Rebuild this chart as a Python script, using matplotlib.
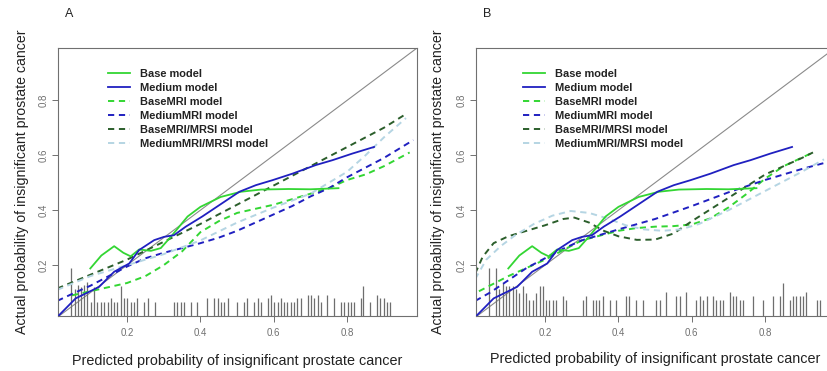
import matplotlib
matplotlib.use("Agg")
import matplotlib.pyplot as plt

plt.rcParams['font.family'] = ['Liberation Sans', 'DejaVu Sans']

# ---- data ----
# solid curves (same in both panels)
base_x = [0.10, 0.13, 0.165, 0.19, 0.21, 0.233, 0.265, 0.292, 0.32, 0.365, 0.40, 0.455, 0.51, 0.565, 0.64, 0.70, 0.776]
base_y = [0.188, 0.235, 0.269, 0.245, 0.232, 0.257, 0.252, 0.262, 0.304, 0.377, 0.412, 0.448, 0.467, 0.475, 0.477, 0.476, 0.48]
medium_x = [0.015, 0.06, 0.124, 0.165, 0.206, 0.233, 0.274, 0.301, 0.328, 0.36, 0.405, 0.451, 0.506, 0.551, 0.596, 0.651, 0.714, 0.76, 0.814, 0.873]
medium_y = [0.018, 0.079, 0.121, 0.176, 0.206, 0.255, 0.291, 0.303, 0.309, 0.34, 0.377, 0.418, 0.467, 0.491, 0.509, 0.533, 0.564, 0.582, 0.606, 0.63]

# panel A dashed curves
a_basemri_x = [0.05, 0.10, 0.15, 0.20, 0.25, 0.30, 0.35, 0.40, 0.45, 0.50, 0.55, 0.60, 0.65, 0.70, 0.75, 0.80, 0.85, 0.90, 0.97]
a_basemri_y = [0.09, 0.105, 0.12, 0.135, 0.16, 0.20, 0.25, 0.32, 0.36, 0.39, 0.405, 0.42, 0.44, 0.46, 0.48, 0.51, 0.53, 0.56, 0.61]
a_medmri_x = [0.01, 0.05, 0.10, 0.15, 0.20, 0.25, 0.30, 0.35, 0.40, 0.45, 0.50, 0.55, 0.60, 0.65, 0.70, 0.75, 0.80, 0.85, 0.90, 0.98]
a_medmri_y = [0.07, 0.095, 0.125, 0.16, 0.195, 0.225, 0.245, 0.262, 0.28, 0.30, 0.325, 0.355, 0.385, 0.415, 0.45, 0.48, 0.52, 0.555, 0.59, 0.655]
a_basemrsi_x = [0.01, 0.10, 0.20, 0.30, 0.40, 0.50, 0.60, 0.70, 0.80, 0.90, 0.96]
a_basemrsi_y = [0.115, 0.165, 0.22, 0.285, 0.35, 0.42, 0.49, 0.56, 0.63, 0.70, 0.75]
a_medmrsi_x = [0.01, 0.10, 0.20, 0.30, 0.40, 0.50, 0.60, 0.70, 0.80, 0.85, 0.90, 0.96]
a_medmrsi_y = [0.11, 0.16, 0.20, 0.24, 0.29, 0.355, 0.41, 0.46, 0.54, 0.60, 0.665, 0.735]

# panel B dashed curves
b_basemri_x = [0.02, 0.10, 0.20, 0.30, 0.40, 0.45, 0.50, 0.55, 0.60, 0.65, 0.70, 0.75, 0.80, 0.85, 0.93]
b_basemri_y = [0.105, 0.16, 0.22, 0.29, 0.325, 0.335, 0.34, 0.342, 0.348, 0.37, 0.41, 0.46, 0.515, 0.56, 0.61]
b_medmri_x = [0.01, 0.05, 0.10, 0.15, 0.20, 0.25, 0.30, 0.40, 0.50, 0.60, 0.70, 0.80, 0.90, 0.97]
b_medmri_y = [0.07, 0.10, 0.145, 0.19, 0.225, 0.26, 0.29, 0.33, 0.368, 0.415, 0.465, 0.51, 0.55, 0.575]
b_basemrsi_x = [0.01, 0.03, 0.06, 0.10, 0.15, 0.20, 0.25, 0.28, 0.32, 0.36, 0.40, 0.45, 0.50, 0.55, 0.60, 0.70, 0.80, 0.90, 0.93]
b_basemrsi_y = [0.17, 0.23, 0.28, 0.305, 0.325, 0.345, 0.368, 0.373, 0.355, 0.325, 0.305, 0.292, 0.293, 0.315, 0.36, 0.445, 0.53, 0.59, 0.61]
b_medmrsi_x = [0.01, 0.04, 0.08, 0.12, 0.17, 0.22, 0.27, 0.32, 0.37, 0.42, 0.47, 0.52, 0.57, 0.62, 0.70, 0.80, 0.90, 0.96]
b_medmrsi_y = [0.15, 0.22, 0.27, 0.31, 0.35, 0.38, 0.397, 0.39, 0.37, 0.345, 0.33, 0.325, 0.33, 0.35, 0.40, 0.47, 0.54, 0.585]

# spike histograms (position, top of spike)
a_spike_x = [0.047, 0.059, 0.066, 0.075, 0.083, 0.092, 0.102, 0.111, 0.119, 0.129, 0.138, 0.147, 0.156, 0.165,
             0.174, 0.183, 0.192, 0.201, 0.210, 0.219, 0.228, 0.247, 0.257, 0.275, 0.328, 0.337, 0.347, 0.356,
             0.374, 0.392, 0.419, 0.437, 0.447, 0.456, 0.465, 0.474, 0.501, 0.519, 0.528, 0.546, 0.556, 0.565,
             0.583, 0.592, 0.601, 0.610, 0.619, 0.628, 0.637, 0.646, 0.655, 0.664, 0.673, 0.692, 0.701, 0.710,
             0.719, 0.728, 0.746, 0.764, 0.783, 0.792, 0.801, 0.810, 0.819, 0.837, 0.844, 0.863, 0.881, 0.890,
             0.899, 0.908, 0.917]
a_spike_top = [0.188, 0.115, 0.127, 0.12, 0.127, 0.139, 0.067, 0.12, 0.067, 0.067, 0.067, 0.067, 0.081, 0.067,
               0.067, 0.124, 0.081, 0.081, 0.067, 0.067, 0.081, 0.067, 0.081, 0.067, 0.067, 0.067, 0.067, 0.067,
               0.067, 0.067, 0.081, 0.081, 0.081, 0.067, 0.067, 0.081, 0.067, 0.067, 0.081, 0.067, 0.081, 0.067,
               0.081, 0.093, 0.067, 0.067, 0.081, 0.067, 0.067, 0.067, 0.067, 0.081, 0.081, 0.093, 0.093, 0.081,
               0.093, 0.067, 0.093, 0.081, 0.067, 0.067, 0.067, 0.067, 0.067, 0.081, 0.124, 0.067, 0.093, 0.081,
               0.081, 0.067, 0.067]
b_spike_x = [0.048, 0.066, 0.076, 0.085, 0.094, 0.103, 0.112, 0.121, 0.130, 0.139, 0.148, 0.157, 0.166, 0.175,
             0.185, 0.194, 0.203, 0.212, 0.221, 0.230, 0.248, 0.257, 0.303, 0.312, 0.330, 0.339, 0.348, 0.357,
             0.376, 0.394, 0.421, 0.430, 0.448, 0.467, 0.503, 0.512, 0.530, 0.558, 0.567, 0.585, 0.612, 0.621,
             0.630, 0.640, 0.658, 0.667, 0.676, 0.685, 0.703, 0.712, 0.721, 0.730, 0.739, 0.767, 0.794, 0.821,
             0.839, 0.848, 0.867, 0.876, 0.885, 0.894, 0.903, 0.912, 0.940, 0.949]
b_spike_top = [0.188, 0.188, 0.112, 0.136, 0.124, 0.124, 0.124, 0.112, 0.098, 0.124, 0.098, 0.073, 0.073, 0.098,
               0.124, 0.124, 0.073, 0.073, 0.073, 0.073, 0.088, 0.073, 0.073, 0.088, 0.073, 0.073, 0.073, 0.088,
               0.073, 0.073, 0.088, 0.088, 0.073, 0.073, 0.073, 0.073, 0.103, 0.088, 0.088, 0.103, 0.073, 0.088,
               0.073, 0.088, 0.088, 0.073, 0.073, 0.073, 0.103, 0.088, 0.088, 0.073, 0.073, 0.088, 0.073, 0.088,
               0.088, 0.136, 0.073, 0.088, 0.088, 0.088, 0.088, 0.103, 0.073, 0.073]

labels = ["Base model", "Medium model", "BaseMRI model", "MediumMRI model",
          "BaseMRI/MRSI model", "MediumMRI/MRSI model"]
ticks = [0.2, 0.4, 0.6, 0.8]

GREEN = '#33d633'
BLUE = '#2020c0'
DKGREEN = '#2b5e2b'
LTBLUE = '#b5d5e3'
DASH = (0, (3.2, 2.4))

XLIM = (0.012, 0.99)
YLIM = (0.015, 0.99)

fig = plt.figure(figsize=(8.28, 3.71), dpi=100)


def draw_panel(ax, dashed, spike_x, spike_top, letter, ylab_x, xlab_y, leg_x):
    ax.plot([0, 1], [0, 1], color='#8a8a8a', lw=0.8, zorder=1)
    ax.vlines(spike_x, YLIM[0], spike_top, color='#6e6e6e', lw=0.9, zorder=1)

    ax.plot(base_x, base_y, color=GREEN, lw=1.3, label=labels[0], zorder=3)
    ax.plot(medium_x, medium_y, color=BLUE, lw=1.3, label=labels[1], zorder=3)
    colors = [GREEN, BLUE, DKGREEN, LTBLUE]
    for (xs, ys), c, lab in zip(dashed, colors, labels[2:]):
        ax.plot(xs, ys, color=c, lw=1.4, linestyle=DASH, label=lab, zorder=2)

    ax.set_xlim(XLIM)
    ax.set_ylim(YLIM)
    ax.set_xticks(ticks)
    ax.set_yticks(ticks)
    ax.set_xticklabels([str(t) for t in ticks])
    ax.set_yticklabels([str(t) for t in ticks], rotation=90, va='center')
    ax.tick_params(colors='#707070', labelsize=7, length=4, width=0.7)
    ax.tick_params(axis='x', pad=5)
    ax.tick_params(axis='y', pad=3)
    for s in ax.spines.values():
        s.set_color('#707070')
        s.set_linewidth(0.8)

    ax.set_xlabel("Predicted probability of insignificant prostate cancer", fontsize=10.4, color='#222222')
    ax.set_ylabel("Actual probability of insignificant prostate cancer", fontsize=10.2, color='#222222')
    ax.yaxis.set_label_coords(ylab_x, 0.5)
    ax.xaxis.set_label_coords(0.5, xlab_y)

    ax.legend(loc='upper left', bbox_to_anchor=(leg_x, 0.922), frameon=False,
              prop={'size': 7.9, 'weight': 'bold'}, handlelength=2.0, handletextpad=0.9,
              labelspacing=0.37, borderaxespad=0, borderpad=0)
    for t in ax.get_legend().get_texts():
        t.set_color('#222222')
    ax.text(0.02, 1.127, letter, transform=ax.transAxes, fontsize=9, color='#222222', va='center')


ax_a = fig.add_axes([58 / 828, (371 - 316) / 371, 359 / 828, 268 / 371])
draw_panel(ax_a,
           [(a_basemri_x, a_basemri_y), (a_medmri_x, a_medmri_y),
            (a_basemrsi_x, a_basemrsi_y), (a_medmrsi_x, a_medmrsi_y)],
           a_spike_x, a_spike_top, "A", -0.081, -0.14, 0.139)

ax_b = fig.add_axes([476 / 828, (371 - 316) / 371, 359 / 828, 268 / 371])
draw_panel(ax_b,
           [(b_basemri_x, b_basemri_y), (b_medmri_x, b_medmri_y),
            (b_basemrsi_x, b_basemrsi_y), (b_medmrsi_x, b_medmrsi_y)],
           b_spike_x, b_spike_top, "B", -0.087, -0.135, 0.131)

fig.savefig("out.png", dpi=100)
